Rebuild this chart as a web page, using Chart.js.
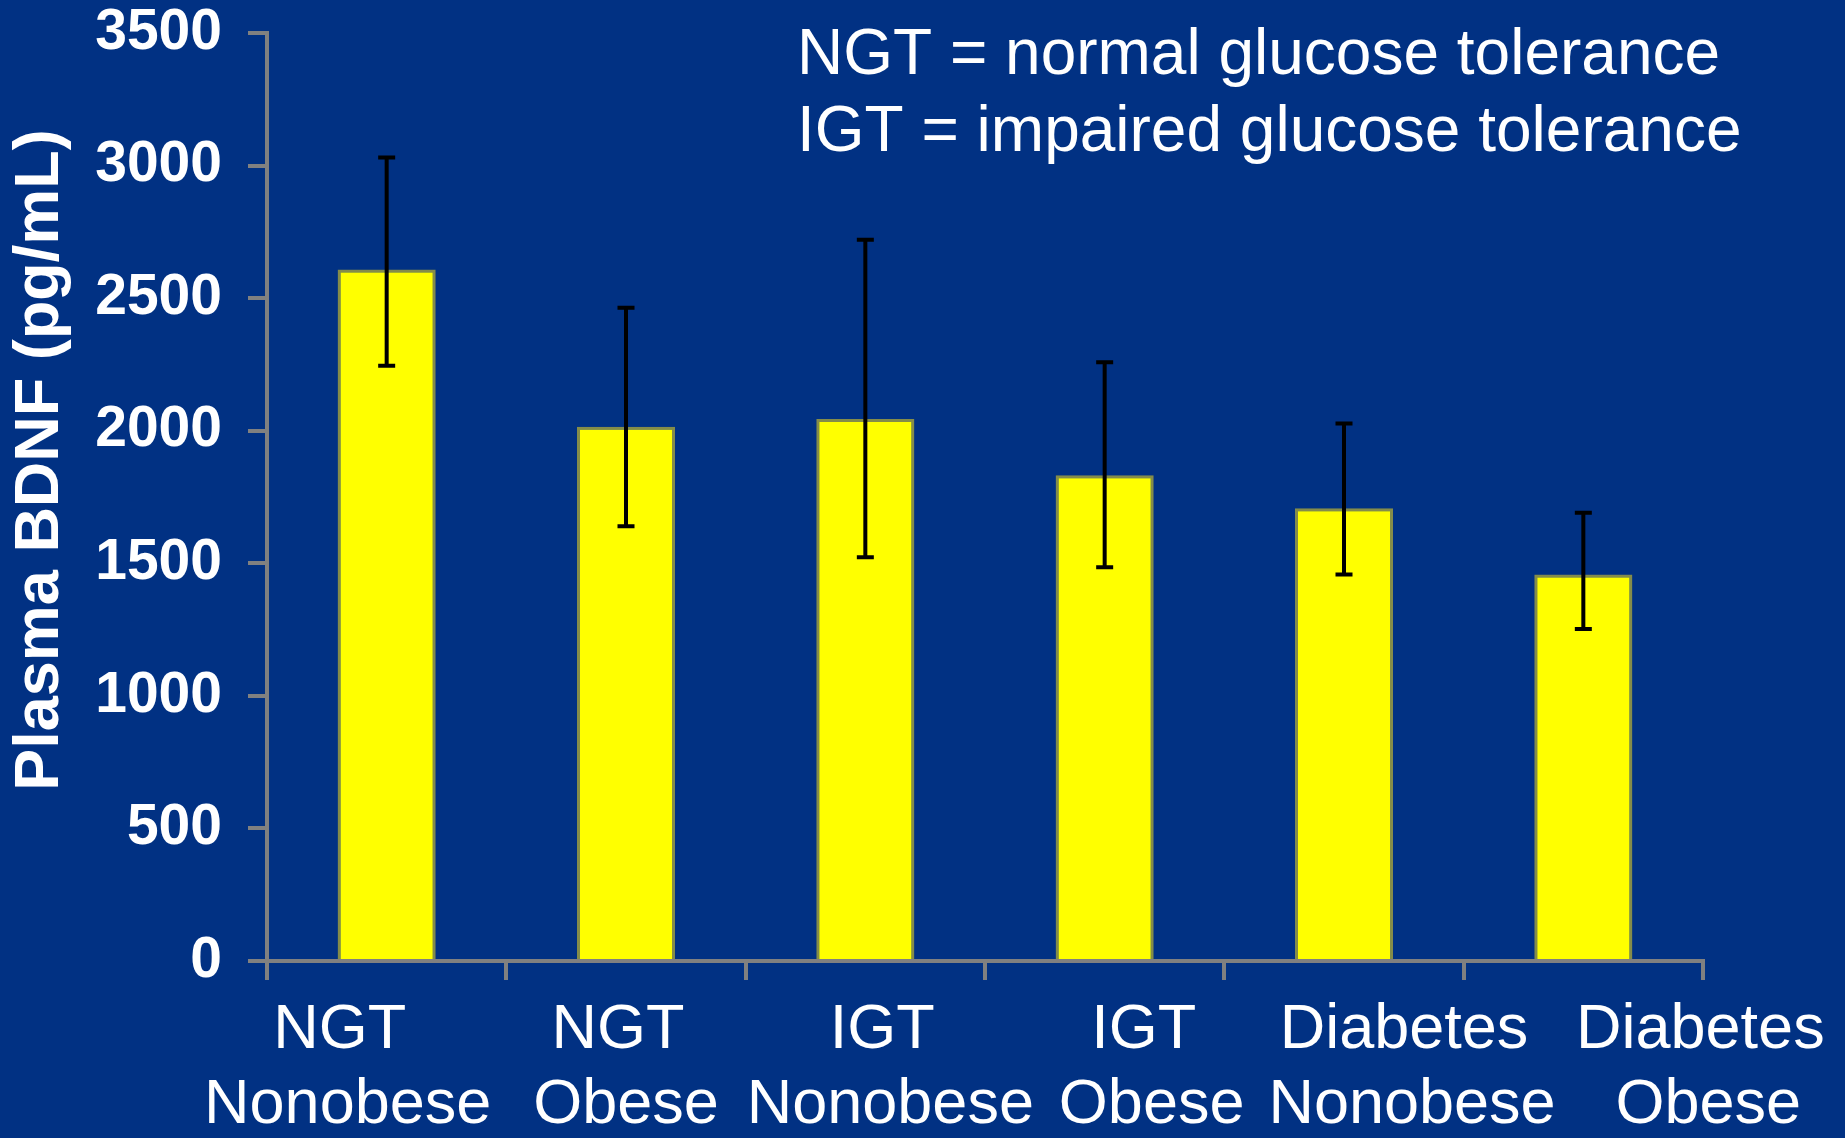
<!DOCTYPE html>
<html>
<head>
<meta charset="utf-8">
<script src="https://cdn.jsdelivr.net/npm/chart.js@4"></script>
<style>
  html, body { margin: 0; padding: 0; background: #013183; }
  #wrap { width: 1845px; height: 1138px; }
</style>
</head>
<body>
<div id="wrap"><canvas id="chart" width="1845" height="1138"></canvas></div>
<script>
'use strict';

// values
let groups = [['NGT', 'Nonobese'], ['NGT', 'Obese'], ['IGT', 'Nonobese'], ['IGT', 'Obese'], ['Diabetes', 'Nonobese'], ['Diabetes', 'Obese']];
let bdnf = [2608, 2015, 2044, 1832, 1708, 1458];
let errHigh = [3030, 2464, 2720, 2258, 2027, 1691];
let errLow = [2245, 1640, 1523, 1485, 1458, 1252];
let yTicks = [0, 500, 1000, 1500, 2000, 2500, 3000, 3500];
let yTitle = 'Plasma BDNF (pg/mL)';
let notes = ['NGT = normal glucose tolerance', 'IGT = impaired glucose tolerance'];

// the slide's category text boxes sit a little off the bar centres
let labelNudge = [-47, -8, 17, 39, 60, 117];

let canvasElem = document.getElementById('chart');
let gray = '#808080';
let fontFamily = '"Liberation Sans", Arial, sans-serif';

let bgPlugin = {
  id: 'bg',
  beforeDraw(chart) {
    let ctx = chart.ctx;
    ctx.save();
    ctx.fillStyle = '#013183';
    ctx.fillRect(0, 0, chart.width, chart.height);
    ctx.restore();
  }
};

let errorBars = {
  id: 'errorBars',
  afterDatasetsDraw(chart) {
    let ctx = chart.ctx;
    let y = chart.scales.y;
    let meta = chart.getDatasetMeta(0);
    ctx.save();
    ctx.strokeStyle = '#000000';
    ctx.lineWidth = 4;
    for (let i = 0; i < meta.data.length; i++) {
      let x = meta.data[i].x;
      let top = y.getPixelForValue(errHigh[i]);
      let bot = y.getPixelForValue(errLow[i]);
      ctx.beginPath();
      ctx.moveTo(x, top);
      ctx.lineTo(x, bot);
      ctx.moveTo(x - 8.5, top);
      ctx.lineTo(x + 8.5, top);
      ctx.moveTo(x - 8.5, bot);
      ctx.lineTo(x + 8.5, bot);
      ctx.stroke();
    }
    ctx.restore();
  }
};

let textPlugin = {
  id: 'slideText',
  afterDraw(chart) {
    let ctx = chart.ctx;
    let area = chart.chartArea;
    let x = chart.scales.x;
    ctx.save();
    ctx.fillStyle = '#ffffff';

    // notes, top right
    ctx.font = '64px ' + fontFamily;
    ctx.textAlign = 'left';
    ctx.textBaseline = 'alphabetic';
    for (let i = 0; i < notes.length; i++) {
      ctx.fillText(notes[i], area.left + 530, 74 + i * 77);
    }

    // category labels
    ctx.font = '63px ' + fontFamily;
    ctx.textAlign = 'center';
    for (let i = 0; i < groups.length; i++) {
      let cx = x.getPixelForValue(i) + labelNudge[i];
      ctx.fillText(groups[i][0], cx, area.bottom + 87);
      ctx.fillText(groups[i][1], cx + 8, area.bottom + 162);
    }

    // y axis title
    ctx.font = 'bold 63px ' + fontFamily;
    ctx.textBaseline = 'middle';
    ctx.translate(41, (area.top + area.bottom) / 2 - 37);
    ctx.rotate(-Math.PI / 2);
    ctx.fillText(yTitle, 0, 0);
    ctx.restore();
  }
};

function renderChart() {
  let dataObject = {
    labels: groups,
    datasets: [
      {
        label: yTitle,
        data: bdnf,
        backgroundColor: '#ffff00',
        borderColor: '#848c4a',
        borderWidth: { top: 3, left: 3, right: 3, bottom: 0 },
        borderSkipped: 'bottom',
        categoryPercentage: 1,
        barPercentage: 0.41
      }
    ]
  };
  let config = {
    type: 'bar',
    data: dataObject,
    plugins: [bgPlugin, errorBars, textPlugin],
    options: {
      responsive: false,
      animation: false,
      layout: {
        padding: { top: 33, right: 142, left: 0, bottom: 0 }
      },
      plugins: {
        legend: { display: false },
        tooltip: { enabled: false }
      },
      scales: {
        y: {
          min: 0,
          max: 3500,
          afterFit(scale) {
            scale.width = 267;
            scale.paddingTop = 0;
            scale.paddingBottom = 0;
          },
          afterBuildTicks(scale) { scale.ticks = yTicks.map(v => ({ value: v })); },
          border: { color: gray, width: 4 },
          grid: { drawOnChartArea: false, color: gray, lineWidth: 4, tickLength: 19 },
          ticks: {
            color: '#ffffff',
            padding: 26,
            callback: v => String(v),
            font: { family: fontFamily, size: 57, weight: 'bold' }
          }
        },
        x: {
          afterFit(scale) {
            scale.height = 177;
            scale.paddingLeft = 0;
            scale.paddingRight = 0;
          },
          border: { color: gray, width: 4 },
          grid: { drawOnChartArea: false, color: gray, lineWidth: 4, tickLength: 19 },
          ticks: { display: false }
        }
      }
    }
  };
  new Chart(canvasElem, config);
}

renderChart();
</script>
</body>
</html>
